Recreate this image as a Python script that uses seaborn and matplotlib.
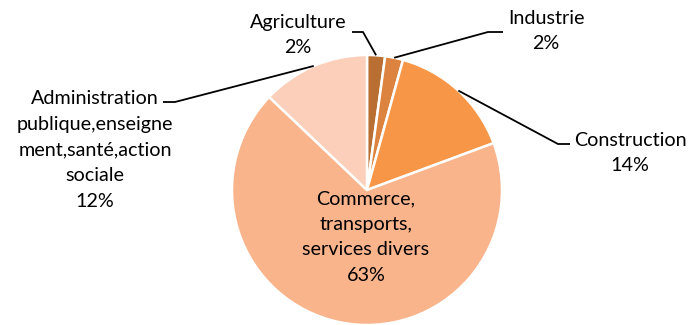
import numpy as np
import matplotlib
matplotlib.use("Agg")
import matplotlib.pyplot as plt
import seaborn as sns

# Sector shares (percent of employment)
sectors = ["Agriculture", "Industrie", "Construction",
           "Commerce,\ntransports,\nservices divers",
           "Administration\npublique,enseigne\nment,santé,action\nsociale"]
shares = [2, 2, 14, 63, 12]
colors = ["#b96e32", "#dc843f", "#f79646", "#f9b48c", "#fbcfba"]

sns.set_theme(style="white")
plt.rcParams["font.family"] = ["Lato", "DejaVu Sans"]

W, H = 688, 325
fig = plt.figure(figsize=(W / 100, H / 100), dpi=100)
ax = fig.add_axes([0, 0, 1, 1])

cx, cy, r = 367, H - 190, 135
wedges, _ = ax.pie(shares, colors=sns.color_palette(colors), startangle=90,
                   counterclock=False, center=(cx, cy), radius=r,
                   wedgeprops=dict(edgecolor="white", linewidth=1.8))
ax.set_xlim(0, W)
ax.set_ylim(0, H)
ax.set_aspect("equal")
ax.axis("off")


def edge_point(w):
    mid = np.deg2rad((w.theta1 + w.theta2) / 2)
    return cx + r * np.cos(mid), cy + r * np.sin(mid)


def label(i):
    return f"{sectors[i]}\n{shares[i]}%"


fs = 14.2
ls = 1.62
# Outside labels with elbow leader lines: (index, text centre, elbow, end)
outside = [
    (0, (298, 35), (363, 32), (352, 32)),
    (1, (546, 31), (488, 32), (503, 32)),
    (2, (630, 153), (558, 144), (570, 144)),
    (4, (95, 150), (175, 102), (163, 102)),
]
for i, tpos, elbow, end in outside:
    ex, ey = edge_point(wedges[i])
    ax.plot([ex, elbow[0], end[0]], [ey, H - elbow[1], H - end[1]],
            color="black", lw=1.3, solid_capstyle="butt")
    ax.text(tpos[0], H - tpos[1], label(i), ha="center", va="center",
            fontsize=fs, linespacing=ls, color="black")

# Label inside the dominant slice
ax.text(366, H - 237, label(3), ha="center", va="center",
        fontsize=fs, linespacing=ls, color="black")

fig.savefig("out.png", dpi=100, facecolor="white")
